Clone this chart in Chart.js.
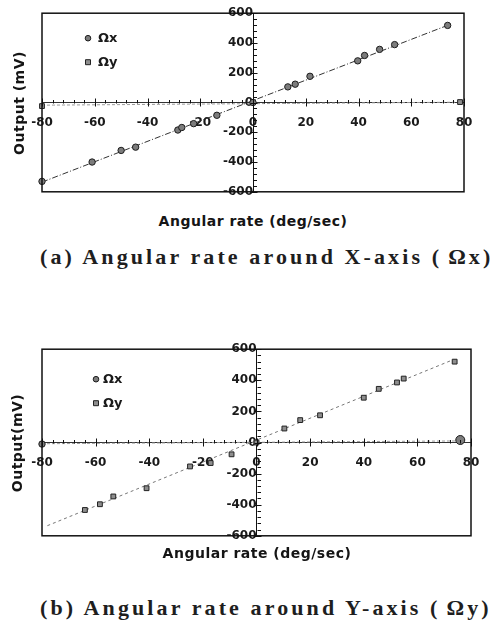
<!DOCTYPE html>
<html>
<head>
<meta charset="utf-8">
<script src="https://cdn.jsdelivr.net/npm/chart.js@4.4.1/dist/chart.umd.min.js"></script>
<style>
  html, body { margin: 0; padding: 0; background: #fff; }
  #page { position: relative; width: 493px; height: 625px; overflow: hidden; }
  canvas { position: absolute; left: 0; }
  .xtitle { position: absolute; left: 42px; width: 422px; text-align: center; font: bold 14px "DejaVu Sans"; letter-spacing: 0.5px; color: #151515; line-height: 16px; white-space: nowrap; }
  .ytitle { position: absolute; width: 150px; height: 16px; text-align: center; font: bold 14px "DejaVu Sans"; letter-spacing: 0.5px; color: #151515; line-height: 16px; transform: rotate(-90deg); white-space: nowrap; }
  .caption { position: absolute; left: 40px; font: bold 22px "Liberation Serif"; letter-spacing: 3.1px; color: #1e1e1e; line-height: 24px; white-space: nowrap; }
</style>
</head>
<body>
<div id="page">
  <canvas id="chartA" width="493" height="205" style="top:0px"></canvas>
  <div class="ytitle" style="left:-56px; top:95px;">Output (mV)</div>
  <div class="xtitle" style="top:213px;">Angular rate (deg/sec)</div>
  <div class="caption" style="top:245px;">(a) Angular rate around X-axis (<span style="margin-left:6px">Ω</span>x)</div>

  <canvas id="chartB" width="493" height="213" style="top:336px"></canvas>
  <div class="ytitle" style="left:-58px; top:435px;">Output(mV)</div>
  <div class="xtitle" style="top:545px; left:46px;">Angular rate (deg/sec)</div>
  <div class="caption" style="top:596px;">(b) Angular rate around Y-axis (<span style="margin-left:6px">Ω</span>y)</div>
</div>
<script>
// axes
const xMin = -80, xMax = 80, xMajorStep = 20, xMinorStep = 4;
const yMin = -600, yMax = 600, yMajorStep = 200, yMinorStep = 40;

// (a) rotation autour de X : Ωx mesuré
const aOmegaXx = [-80, -61, -50, -44.5, -28.5, -27, -22.5, -13.7, 0, 13.2, 16, 21.6, 39.7, 42.3, 48, 53.7, 73.8];
const aOmegaXy = [-530, -400, -322, -300, -185, -168, -142, -86, 0, 105, 123, 176, 280, 316, 357, 389, 518];
// (a) Ωy (quasi nul)
const aOmegaYx = [-80, 78.5];
const aOmegaYy = [-24, 3];
// (a) droites d'ajustement
const aFitXx = [-80, 74];
const aFitXy = [-535, 520];
const aFitYx = [-80, 78];
const aFitYy = [-18, 2];

// (b) rotation autour de Y : Ωy mesuré
const bOmegaYx = [-64, -58.4, -53.4, -41, -24.8, -17.1, -9.3, 0, 10.4, 16.3, 23.7, 40, 45.6, 52.4, 54.9, 73.9];
const bOmegaYy = [-434, -397, -347, -294, -154, -132, -76, 0, 90, 144, 175, 288, 345, 386, 411, 520];
// (b) Ωx (quasi nul)
const bOmegaXx = [-80, 76];
const bOmegaXy = [-10, 16];
// (b) droites d'ajustement
const bFitYx = [-78, 73];
const bFitYy = [-535, 530];
const bFitXx = [-80, 74];
const bFitXy = [-8, 10];

function pts(xs, ys) {
  return xs.map((v, i) => ({ x: v, y: ys[i] }));
}

const tickFont = { family: 'DejaVu Sans', size: 12, weight: 'bold' };

// petites graduations + cadre
const axisTicks = {
  id: 'axisTicks',
  afterDraw(chart) {
    const { ctx, chartArea: a, scales: { x, y } } = chart;
    const x0 = Math.round(x.getPixelForValue(0)) + 0.5;
    const y0 = Math.round(y.getPixelForValue(0)) + 0.5;
    ctx.save();
    ctx.strokeStyle = '#111';
    ctx.lineWidth = 1;
    ctx.beginPath();
    for (let v = xMin; v <= xMax; v += xMinorStep) {
      const px = Math.round(x.getPixelForValue(v)) + 0.5;
      const major = v % xMajorStep === 0;
      ctx.moveTo(px, y0 - (major ? 5 : 3.5));
      ctx.lineTo(px, major ? y0 + 3 : y0);
    }
    for (let v = yMin; v <= yMax; v += yMinorStep) {
      const py = Math.round(y.getPixelForValue(v)) + 0.5;
      const major = v % yMajorStep === 0;
      ctx.moveTo(major ? x0 - 3 : x0, py);
      ctx.lineTo(x0 + (major ? 4 : 3.5), py);
    }
    ctx.stroke();
    ctx.lineWidth = 1.5;
    ctx.strokeStyle = '#111';
    ctx.strokeRect(a.left, a.top, a.width, a.height);
    ctx.restore();
  }
};

// légende dans la zone du graphique
const innerLegend = {
  id: 'innerLegend',
  afterDraw(chart, args, opts) {
    const { ctx, chartArea: a } = chart;
    ctx.save();
    ctx.font = 'bold 13px "DejaVu Sans"';
    ctx.textBaseline = 'middle';
    opts.items.forEach((idx, i) => {
      const ds = chart.data.datasets[idx];
      const mx = a.left + opts.dx;
      const my = a.top + opts.dy + i * opts.gap;
      ctx.fillStyle = ds.backgroundColor;
      ctx.strokeStyle = ds.borderColor;
      ctx.lineWidth = 1;
      ctx.beginPath();
      if (ds.pointStyle === 'rect') ctx.rect(mx - 2.5, my - 2.5, 5, 5);
      else ctx.arc(mx, my, 2.8, 0, Math.PI * 2);
      ctx.fill();
      ctx.stroke();
      ctx.fillStyle = '#1a1a1a';
      ctx.fillText(ds.label, mx + opts.textGap, my);
    });
    ctx.restore();
  }
};

function makeScales() {
  return {
    x: {
      type: 'linear', min: xMin, max: xMax, position: { y: 0 },
      grid: { display: false, drawTicks: false },
      border: { display: true, color: '#333', width: 1 },
      ticks: { stepSize: xMajorStep, autoSkip: false, maxRotation: 0, padding: 13, color: '#1a1a1a', font: tickFont }
    },
    y: {
      type: 'linear', min: yMin, max: yMax, position: { x: 0 },
      grid: { display: false, drawTicks: false },
      border: { display: true, color: '#111', width: 1 },
      ticks: { stepSize: yMajorStep, autoSkip: false, padding: 6, color: '#1a1a1a', font: tickFont }
    }
  };
}

const circleStyle = { pointStyle: 'circle', backgroundColor: '#7c7c7c', borderColor: '#1c1c1c', borderWidth: 1, pointRadius: 3.2, showLine: false, clip: false };
const squareStyle = { pointStyle: 'rect', backgroundColor: '#8e8e8e', borderColor: '#222', borderWidth: 1, pointRadius: 3.4, showLine: false, clip: false };

new Chart(document.getElementById('chartA'), {
  type: 'scatter',
  data: {
    datasets: [
      Object.assign({ label: 'Ωx', data: pts(aOmegaXx, aOmegaXy) }, circleStyle),
      Object.assign({ label: 'Ωy', data: pts(aOmegaYx, aOmegaYy) }, squareStyle),
      { label: 'fitX', data: pts(aFitXx, aFitXy), showLine: true, pointRadius: 0, borderColor: '#333', borderWidth: 1, borderDash: [6, 2, 1, 2] },
      { label: 'fitY', data: pts(aFitYx, aFitYy), showLine: true, pointRadius: 0, borderColor: '#9a9a9a', borderWidth: 1, borderDash: [3, 2] }
    ]
  },
  options: {
    responsive: false,
    animation: false,
    events: [],
    layout: { padding: { left: 42, right: 29, top: 10, bottom: 10 } },
    scales: makeScales(),
    plugins: {
      legend: { display: false },
      tooltip: { enabled: false },
      innerLegend: { items: [0, 1], dx: 46, dy: 25, gap: 24, textGap: 10 }
    }
  },
  plugins: [axisTicks, innerLegend]
});

new Chart(document.getElementById('chartB'), {
  type: 'scatter',
  data: {
    datasets: [
      Object.assign({ label: 'Ωx', data: pts(bOmegaXx, bOmegaXy) }, circleStyle, { pointRadius: ctx => ctx.dataIndex === 1 ? 4.5 : 3.2 }),
      Object.assign({ label: 'Ωy', data: pts(bOmegaYx, bOmegaYy) }, squareStyle),
      { label: 'fitY', data: pts(bFitYx, bFitYy), showLine: true, pointRadius: 0, borderColor: '#777', borderWidth: 1, borderDash: [3, 3] },
      { label: 'fitX', data: pts(bFitXx, bFitXy), showLine: true, pointRadius: 0, borderColor: '#9a9a9a', borderWidth: 1, borderDash: [3, 2] }
    ]
  },
  options: {
    responsive: false,
    animation: false,
    events: [],
    layout: { padding: { left: 42, right: 22, top: 10, bottom: 10 } },
    scales: makeScales(),
    plugins: {
      legend: { display: false },
      tooltip: { enabled: false },
      innerLegend: { items: [0, 1], dx: 54, dy: 30, gap: 24, textGap: 7 }
    }
  },
  plugins: [axisTicks, innerLegend]
});
</script>
</body>
</html>
